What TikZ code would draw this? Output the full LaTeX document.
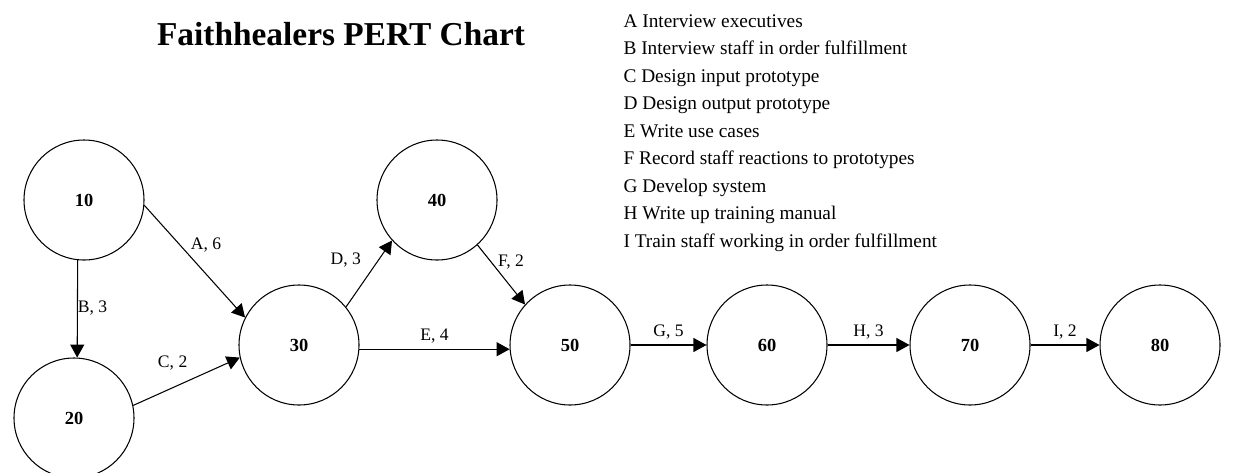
\documentclass[tikz,border=0pt]{standalone}
\usepackage{fontspec}
\setmainfont{Liberation Serif}
\usetikzlibrary{positioning, arrows.meta}

\begin{document}
\begin{tikzpicture}[auto, on grid, line width=0.6pt,
    event/.style={circle, draw=black, minimum size=2.4cm, inner sep=0pt, font=\bfseries\fontsize{10.5}{12}\selectfont},
    flow/.style={-{Triangle[length=2.6mm, width=2.8mm]}},
    lab/.style={inner sep=1pt, font=\fontsize{10}{12}\selectfont},
    legend/.style={anchor=base west, inner sep=0pt, font=\fontsize{11}{13}\selectfont}]
  \useasboundingbox (0,0) rectangle (24.98,-9.44);

  \node[font=\bfseries\fontsize{19}{23}\selectfont] (title) at (6.82,-0.68) {Faithhealers PERT Chart};
  \foreach \txt [count=\i] in {A Interview executives, B Interview staff in order fulfillment,
      C Design input prototype, D Design output prototype, E Write use cases,
      F Record staff reactions to prototypes, G Develop system,
      H Write up training manual, I Train staff working in order fulfillment}
    \node[legend] (item\i) at (12.46,{-0.54-0.55*(\i-1)}) {\txt};

  \node[event] (30) at (5.98,-6.9) {30};
  \node[event, above left=2.9cm and 4.3cm of 30] (10) {10};
  \node[event, below left=4.36cm and 0.2cm of 10] (20) {20};
  \node[event, above right=2.9cm and 2.76cm of 30] (40) {40};
  \node[event, right=5.42cm of 30] (50) {50};
  \node[event, right=3.94cm of 50] (60) {60};
  \node[event, right=4.06cm of 60] (70) {70};
  \node[event, right=3.8cm of 70] (80) {80};

  \draw[flow] (10.-5) -- node[lab, pos=0.44, anchor=south west] {A, 6} (30.153);
  \draw[flow] (10.264) -- node[lab, pos=0.49, anchor=west, inner sep=0pt] {B, 3} (20.87);
  \draw[flow] (20.12) -- node[lab, pos=0.37, anchor=south, yshift=3mm] {C, 2} (30.192);
  \draw[flow] (30.39) -- node[lab, pos=0.7, anchor=east, xshift=-3mm] {D, 3} (40.222);
  \draw[flow] (30.-4) -- node[lab, anchor=south, yshift=2pt] {E, 4} (50.184);
  \draw[flow] (40.-48) -- node[lab, pos=0.28, anchor=west, xshift=1mm] {F, 2} (50.138);
  \draw[flow] (50) -- node[lab, anchor=south, yshift=2pt] {G, 5} (60);
  \draw[flow] (60) -- node[lab, anchor=south, yshift=2pt] {H, 3} (70);
  \draw[flow] (70) -- node[lab, anchor=south, yshift=2pt] {I, 2} (80);
\end{tikzpicture}
\end{document}
